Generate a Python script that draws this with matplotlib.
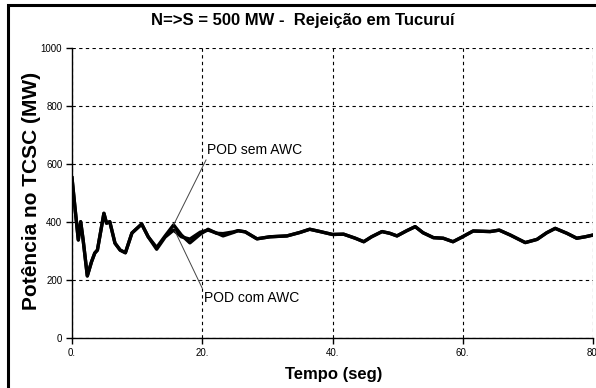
import numpy as np
from matplotlib import pyplot as plt
from matplotlib.patches import Rectangle

# tempo (s) e potencia no TCSC (MW)
tempo = [0, 0.5, 0.97, 1.33, 1.7, 2.35, 3.0, 3.5, 3.9, 4.9, 5.3, 5.8, 6.6, 7.4, 8.2,
         9.2, 10.7, 11.7, 13.0, 14.3, 15.6, 16.8, 18.1, 19.7, 20.9, 22.2, 23.2, 24.8,
         25.5, 26.6, 28.4, 30.4, 33.0, 35.0, 36.5, 38.1, 40.0, 41.7, 43.5, 44.8, 46.0,
         47.6, 48.8, 49.9, 51.4, 52.7, 53.9, 55.5, 57.0, 58.5, 59.8, 61.6, 64.2, 65.6,
         67.3, 69.6, 71.4, 72.9, 74.2, 76.0, 77.5, 78.8, 80.0]
pod_sem_awc = [552, 440, 338, 401, 340, 214, 263, 293, 303, 430, 396, 401, 327, 303, 294,
               362, 393, 349, 312, 352, 390, 355, 328, 358, 375, 361, 360, 366,
               370, 366, 342, 349, 352, 364, 375, 367, 357, 358, 344, 332, 349,
               367, 361, 352, 370, 384, 363, 346, 344, 332, 347, 369, 367, 372,
               355, 329, 340, 363, 378, 361, 344, 349, 355]
pod_com_awc = [552, 440, 338, 401, 340, 214, 263, 293, 303, 430, 396, 401, 327, 303, 294,
               362, 393, 349, 306, 348, 372, 349, 341, 365, 372, 362, 352, 364,
               370, 366, 342, 349, 352, 364, 375, 367, 357, 358, 344, 332, 349,
               367, 361, 352, 370, 384, 363, 346, 344, 332, 347, 369, 367, 372,
               355, 329, 340, 363, 378, 361, 344, 349, 355]

x_ticks = [0, 20, 40, 60, 80]
x_tick_labels = ['0.', '20.', '40.', '60.', '80.']
y_ticks = [0, 200, 400, 600, 800, 1000]

plt.rcParams['font.family'] = ['Liberation Sans', 'DejaVu Sans']

fg = plt.figure(figsize=(5.96, 3.88), dpi=100)
ax = fg.add_axes([72 / 596, 1 - 338 / 388, 521 / 596, 290 / 388])

# moldura da figura
fg.patches.append(Rectangle((8 / 596, -0.05), 1.2, 1 - 5 / 388 + 0.05, transform=fg.transFigure,
                            fill=False, edgecolor='black', linewidth=2.2, zorder=0))

ax.plot(tempo, pod_sem_awc, color='black', linewidth=2.4, solid_joinstyle='round')
ax.plot(tempo, pod_com_awc, color='black', linewidth=2.4, solid_joinstyle='round')

ax.set(xlim=(0, 80), ylim=(0, 1000), xticks=x_ticks, yticks=y_ticks)
ax.set_xticklabels(x_tick_labels)
ax.grid(True, color='black', linestyle=(0, (3, 3)), linewidth=0.8)
ax.spines['top'].set_visible(False)
ax.spines['right'].set_visible(False)
ax.spines['left'].set_linewidth(1.0)
ax.spines['bottom'].set_linewidth(1.0)
ax.tick_params(length=4, width=1, labelsize=7, pad=3)

ax.annotate('POD sem AWC', xy=(15.6, 390), xytext=(20.8, 648), fontsize=10,
            va='center', ha='left',
            arrowprops=dict(arrowstyle='-', color='#444444', linewidth=0.7,
                            shrinkA=0, shrinkB=0, relpos=(0, 0)))
ax.annotate('POD com AWC', xy=(15.8, 369), xytext=(20.2, 138), fontsize=10,
            va='center', ha='left',
            arrowprops=dict(arrowstyle='-', color='#444444', linewidth=0.7,
                            shrinkA=0, shrinkB=0, relpos=(0, 1)))

fg.text(303 / 596, 1 - 21 / 388, 'N=>S = 500 MW -  Rejeição em Tucuruí', ha='center', va='center',
        fontsize=12, fontweight='bold')
fg.text(334 / 596, 1 - 374 / 388, 'Tempo (seg)', ha='center', va='center',
        fontsize=12, fontweight='bold')
fg.text(32 / 596, 1 - 191 / 388, 'Potência no TCSC (MW)', ha='center', va='center',
        rotation=90, fontsize=15, fontweight='bold')

fg.savefig('out.png', dpi=100)
